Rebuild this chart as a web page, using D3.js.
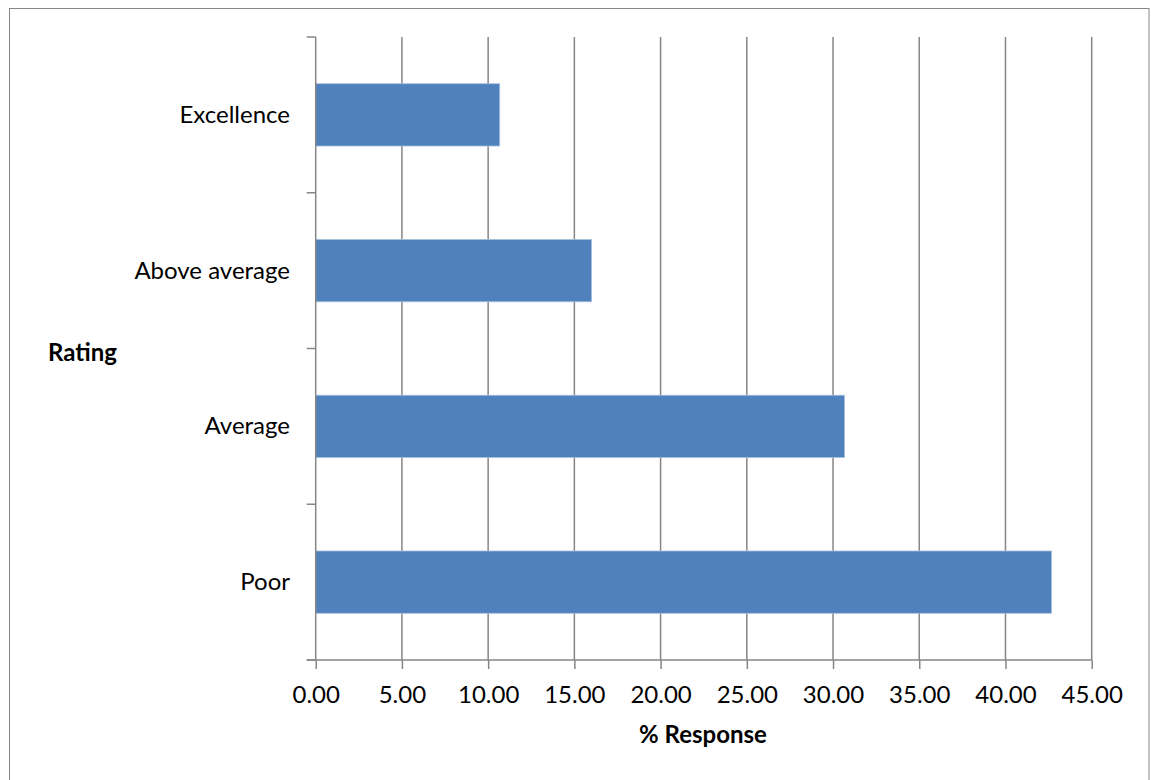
<!DOCTYPE html>
<html><head><meta charset="utf-8">
<script src="https://cdn.jsdelivr.net/npm/d3@7"></script>
<style>body{margin:0;background:#fff;} svg{display:block;}</style>
</head><body>
<script>
const categories = ["Excellence", "Above average", "Average", "Poor"];
const values = [10.67, 16.00, 30.67, 42.67];
const xTicks = [0, 5, 10, 15, 20, 25, 30, 35, 40, 45];
const xTitle = "% Response";
const yTitle = "Rating";

(function () {
const W = 1151, H = 780;
const pL = 315.7, pR = 1091.7, pT = 37, pB = 660;
const font = "Lato, 'Open Sans', sans-serif";
const fs = 24;
const svg = d3.select("body").append("svg").attr("width", W).attr("height", H);

svg.append("rect").attr("x", 9.5).attr("y", 8.5).attr("width", 1139.5).attr("height", 780)
  .attr("fill", "#fff").attr("stroke", "#878787").attr("stroke-width", 1);

const x = d3.scaleLinear().domain([0, 45]).range([pL, pR]);
const y = d3.scaleBand().domain(categories).range([pT, pB]).paddingInner(0.6).paddingOuter(0.3);

// gridlines
svg.append("g").selectAll("line").data(xTicks.slice(1)).join("line")
  .attr("x1", d => x(d)).attr("x2", d => x(d)).attr("y1", pT).attr("y2", pB)
  .attr("stroke", "#868686").attr("stroke-width", 1.5);

// bars
svg.append("g").selectAll("rect").data(values).join("rect")
  .attr("x", x(0)).attr("y", (d, i) => y(categories[i]))
  .attr("width", d => x(d) - x(0)).attr("height", y.bandwidth())
  .attr("fill", "#4f81bd").attr("stroke", "#a7c0de").attr("stroke-width", 0.8);

// x axis
const xAxis = d3.axisBottom(x).tickValues(xTicks).tickFormat(d3.format(".2f")).tickSize(9);
const gx = svg.append("g").attr("transform", `translate(0,${pB})`).call(xAxis);
gx.select(".domain").attr("stroke", "#868686").attr("stroke-width", 1.5).attr("d", `M${pL - 9},0H${pR}`);
gx.selectAll(".tick line").attr("stroke", "#868686").attr("stroke-width", 1.5);
gx.selectAll("text").attr("y", 43.3).attr("dy", 0)
  .attr("font-family", font).attr("font-size", fs).attr("fill", "#000");

// y axis (ticks at band boundaries)
const bounds = categories.map(c => y(c) - y.step() * y.paddingInner() / 2).concat([pB]);
const gy = svg.append("g");
gy.append("line").attr("x1", pL).attr("x2", pL).attr("y1", pT).attr("y2", pB)
  .attr("stroke", "#868686").attr("stroke-width", 1.5);
gy.selectAll(".yt").data(bounds).join("line").attr("class", "yt")
  .attr("x1", pL - 9).attr("x2", pL).attr("y1", d => d).attr("y2", d => d)
  .attr("stroke", "#868686").attr("stroke-width", 1.5);
gy.selectAll(".yl").data(categories).join("text").attr("class", "yl")
  .attr("x", 290).attr("y", d => y(d) + y.bandwidth() / 2 + 8)
  .attr("text-anchor", "end").attr("font-family", font).attr("font-size", fs).text(d => d);

svg.append("text").attr("x", 48).attr("y", 361)
  .attr("font-family", font).attr("font-weight", "bold").attr("font-size", fs).text(yTitle);
svg.append("text").attr("x", 703).attr("y", 743.3).attr("text-anchor", "middle")
  .attr("font-family", font).attr("font-weight", "bold").attr("font-size", fs).text(xTitle);
})();
</script>
</body></html>
